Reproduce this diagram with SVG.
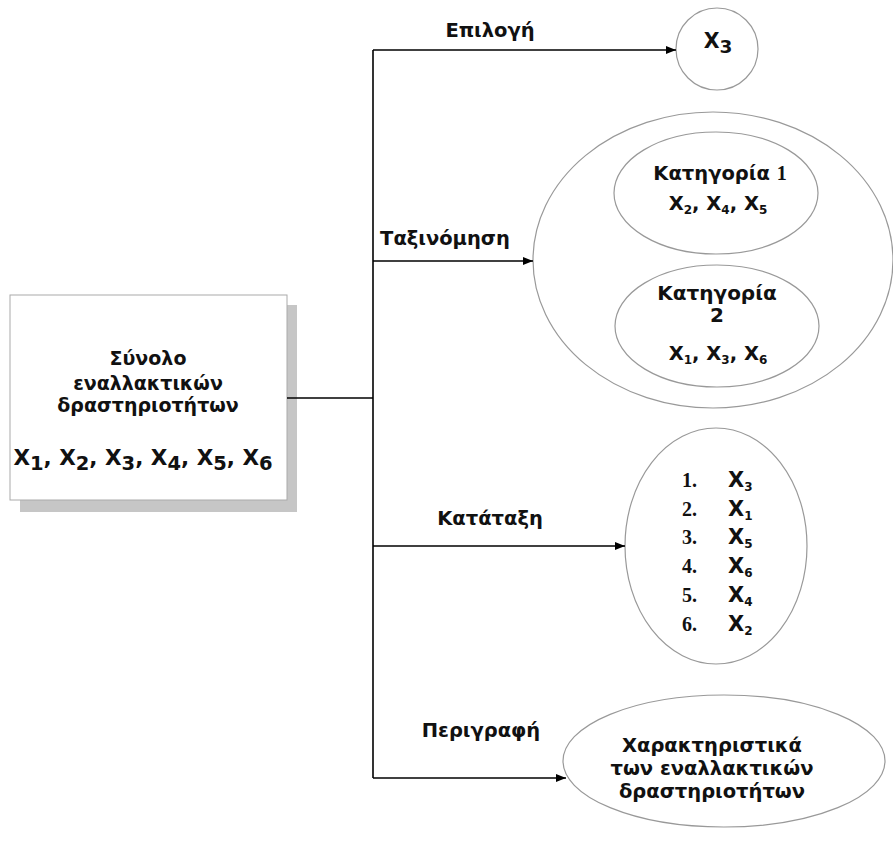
<svg xmlns="http://www.w3.org/2000/svg" width="893" height="857" viewBox="0 0 893 857">
  <defs>
    <marker id="arrow" markerUnits="userSpaceOnUse" markerWidth="11" markerHeight="9" refX="10" refY="4" orient="auto">
      <path d="M0,0 L10,4 L0,8 z" fill="#000"/>
    </marker>
  </defs>
  <style>
    .lbl { font-family: "DejaVu Sans", "Noto Sans", sans-serif; font-weight: 700; fill: #111; text-anchor: middle; }
    .num { font-family: "Liberation Serif", serif; font-weight: 700; fill: #111; }
    .oval { fill: #fff; stroke: #999; stroke-width: 1.2; }
    .conn { fill: none; stroke: #000; stroke-width: 1.6; }
  </style>
  <rect width="893" height="857" fill="#fff"/>

  <!-- source set -->
  <g id="source">
    <rect x="20" y="305" width="277" height="207" fill="#c6c6c6"/>
    <rect x="10" y="295" width="277" height="205" fill="#fff" stroke="#aaa" stroke-width="1"/>
    <text class="lbl" x="148" y="365" font-size="19">Σύνολο</text>
    <text class="lbl" x="148" y="390" font-size="19">εναλλακτικών</text>
    <text class="lbl" x="148" y="412" font-size="19">δραστηριοτήτων</text>
    <text class="lbl" x="143" y="465" font-size="21.5">X<tspan font-size="19.5" dy="5">1</tspan><tspan dy="-5">, X</tspan><tspan font-size="19.5" dy="5">2</tspan><tspan dy="-5">, X</tspan><tspan font-size="19.5" dy="5">3</tspan><tspan dy="-5">, X</tspan><tspan font-size="19.5" dy="5">4</tspan><tspan dy="-5">, X</tspan><tspan font-size="19.5" dy="5">5</tspan><tspan dy="-5">, X</tspan><tspan font-size="19.5" dy="5">6</tspan></text>
  </g>

  <!-- selection -->
  <g id="selection">
    <circle class="oval" cx="717" cy="49" r="41"/>
    <text class="lbl" x="718" y="48" font-size="20.5">X<tspan font-size="18.5" dy="5">3</tspan></text>
  </g>

  <!-- classification -->
  <g id="classification">
    <ellipse class="oval" cx="713" cy="260" rx="180" ry="148"/>
  </g>
  <g id="category1">
    <ellipse class="oval" cx="716" cy="193" rx="102" ry="61"/>
    <text class="lbl" x="720" y="180" font-size="19.5">Κατηγορία <tspan class="num" font-weight="400" font-size="20">1</tspan></text>
    <text class="lbl" x="718" y="210" font-size="19.5">X<tspan font-size="12" dy="4">2</tspan><tspan dy="-4">, X</tspan><tspan font-size="12" dy="4">4</tspan><tspan dy="-4">, X</tspan><tspan font-size="12" dy="4">5</tspan></text>
  </g>
  <g id="category2">
    <ellipse class="oval" cx="717" cy="326" rx="102" ry="61"/>
    <text class="lbl" x="717" y="300" font-size="20">Κατηγορία</text>
    <text class="lbl" x="717" y="322" font-size="20">2</text>
    <text class="lbl" x="718" y="360" font-size="19.5">X<tspan font-size="12" dy="4">1</tspan><tspan dy="-4">, X</tspan><tspan font-size="12" dy="4">3</tspan><tspan dy="-4">, X</tspan><tspan font-size="12" dy="4">6</tspan></text>
  </g>

  <!-- ranking -->
  <g id="ranking">
    <ellipse class="oval" cx="716" cy="546" rx="91" ry="118"/>
    <g font-size="20">
      <text class="num" x="682" y="487">1.</text>
      <text class="num" x="682" y="516">2.</text>
      <text class="num" x="682" y="544">3.</text>
      <text class="num" x="682" y="573">4.</text>
      <text class="num" x="682" y="602">5.</text>
      <text class="num" x="682" y="631">6.</text>
    </g>
    <g class="lbl" style="text-anchor:start" font-size="21">
      <text x="728" y="487">X<tspan font-size="12" dy="4">3</tspan></text>
      <text x="728" y="516">X<tspan font-size="12" dy="4">1</tspan></text>
      <text x="728" y="544">X<tspan font-size="12" dy="4">5</tspan></text>
      <text x="728" y="573">X<tspan font-size="12" dy="4">6</tspan></text>
      <text x="728" y="602">X<tspan font-size="12" dy="4">4</tspan></text>
      <text x="728" y="631">X<tspan font-size="12" dy="4">2</tspan></text>
    </g>
  </g>

  <!-- description -->
  <g id="description">
    <ellipse class="oval" cx="724" cy="761" rx="161" ry="66"/>
    <text class="lbl" x="712" y="752" font-size="19.5">Χαρακτηριστικά</text>
    <text class="lbl" x="712" y="775" font-size="19.5">των εναλλακτικών</text>
    <text class="lbl" x="712" y="798" font-size="19.5">δραστηριοτήτων</text>
  </g>

  <!-- connectors -->
  <g id="connectors">
    <path class="conn" d="M373,50 V778"/>
    <path class="conn" d="M287,398 H373"/>
    <path class="conn" d="M373,50 H676" marker-end="url(#arrow)"/>
    <path class="conn" d="M373,261 H533" marker-end="url(#arrow)"/>
    <path class="conn" d="M373,546 H625" marker-end="url(#arrow)"/>
    <path class="conn" d="M373,778 H566" marker-end="url(#arrow)"/>
  </g>

  <!-- edge labels -->
  <g id="labels">
    <text class="lbl" x="490" y="37" font-size="19.5">Επιλογή</text>
    <text class="lbl" x="445" y="245" font-size="19.5">Ταξινόμηση</text>
    <text class="lbl" x="490" y="525" font-size="19.5">Κατάταξη</text>
    <text class="lbl" x="481" y="737" font-size="19.5">Περιγραφή</text>
  </g>
</svg>
